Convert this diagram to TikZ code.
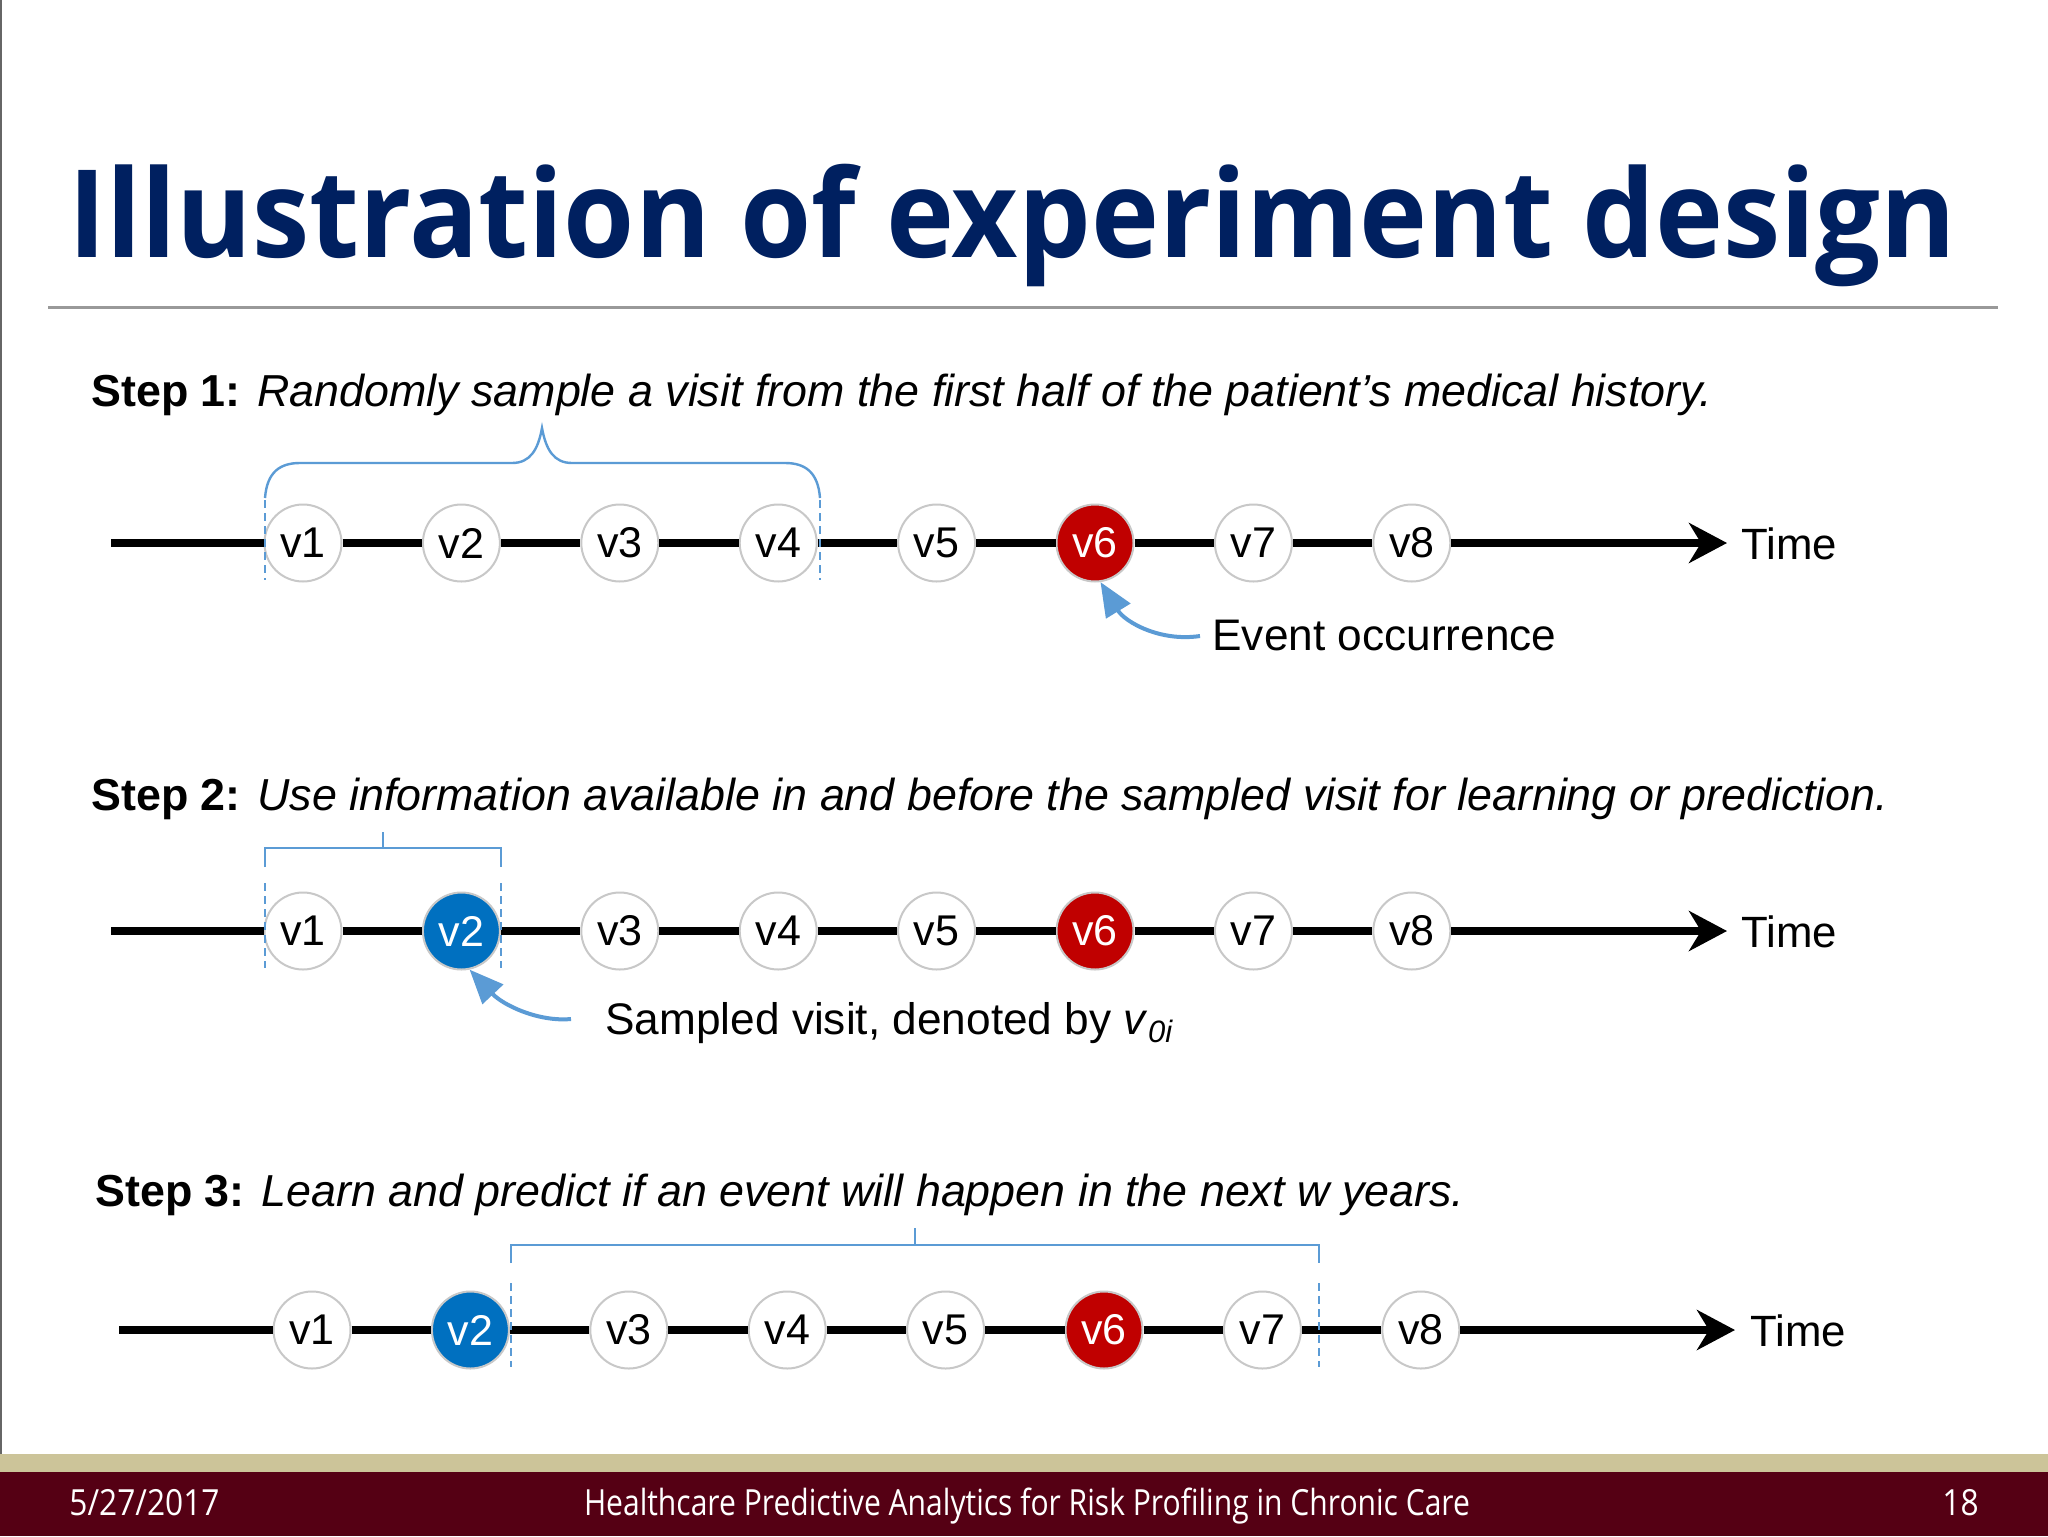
\documentclass[tikz,border=0pt]{standalone}
\usepackage{fontspec}
\setmainfont{Liberation Sans}
\newfontfamily\titlefont[FakeStretch=0.943]{Open Sans}
\newfontfamily\footfont[FakeStretch=0.88]{Open Sans}
\newfontfamily\footfontn[FakeStretch=0.835]{Open Sans}
\usetikzlibrary{arrows.meta}
\definecolor{navy}{RGB}{0,32,96}
\definecolor{brblue}{RGB}{91,155,213}
\definecolor{vred}{RGB}{192,0,0}
\definecolor{vblue}{RGB}{0,112,192}
\definecolor{footmaroon}{RGB}{85,0,20}
\definecolor{foottan}{RGB}{204,196,153}
\definecolor{ringgray}{RGB}{200,200,200}
\tikzset{
  visit/.style={circle, draw=ringgray, line width=1pt, fill=white, minimum size=38.5pt, inner sep=0pt, font=\fontsize{21.5}{22}\selectfont},
  redvisit/.style={visit, fill=vred, text=white},
  bluevisit/.style={visit, fill=vblue, text=white},
  tline/.style={line width=4.2pt, black},
  tarrow/.style={-{Stealth[length=19pt,width=20pt,inset=6pt]}},
  br/.style={brblue, line width=1.2pt},
  dsh/.style={brblue, line width=1.2pt, dash pattern=on 4pt off 2.5pt},
  callout/.style={brblue, line width=2pt, -{Triangle[length=17pt,width=14pt]}},
  lbl/.style={anchor=base west, inner sep=0pt, font=\fontsize{22.1}{26}\selectfont},
  steplbl/.style={anchor=base west, inner sep=0pt, font=\fontsize{22.4}{26}\selectfont},
  timelbl/.style={anchor=base west, inner sep=0pt, font=\fontsize{21.9}{26}\selectfont},
}
\begin{document}
\begin{tikzpicture}[x=0.5pt,y=-0.5pt]
\useasboundingbox (0,0) rectangle (2048,1536);
\fill[white] (0,0) rectangle (2048,1536);
% left border
\draw[gray!80!black, line width=1pt] (1,0) -- (1,1454);
% title
\node[anchor=base west, inner sep=0pt, text=navy, font=\titlefont\bfseries\fontsize{61}{61}\selectfont] (title) at (68,257) {Illustration of experiment design};
\draw[gray!80, line width=1.5pt] (48,307) -- (1998,307);

% ---------- Step 1 ----------
\node[steplbl] (st1) at (91,406) {\textbf{Step 1:} \textit{Randomly sample a visit from the first half of the patient’s medical history.}};
\coordinate (s1) at (111,543);
\coordinate (e1) at (1727,543);
\foreach \i in {1,...,8} {
  \ifnum\i=6
    \node[redvisit] (v1\i) at ({303+158.4*(\i-1)},543) {v\i};
  \else
    \node[visit] (v1\i) at ({303+158.4*(\i-1)},543) {v\i};
  \fi
}
\draw[tline] (s1) -- (v11) (v11) -- (v12) (v12) -- (v13) (v13) -- (v14) (v14) -- (v15) (v15) -- (v16) (v16) -- (v17) (v17) -- (v18);
\draw[tline, tarrow] (v18) -- (e1);
\node[timelbl] (time1) at (1741,559) {Time};
% brace
\draw[br] (265,498) .. controls (267,472) and (280,463) .. (300,463) -- (512,463)
  .. controls (530,463) and (538,450) .. (542,428)
  .. controls (546,450) and (554,463) .. (572,463) -- (785,463)
  .. controls (805,463) and (818,472) .. (820,498);
\draw[dsh] (265,500) -- (265,580);
\draw[dsh] (820,500) -- (820,580);
\node[lbl] (ev) at (1212,650) {Event occurrence};
\coordinate (evs) at (1200,636);
\draw[callout] (evs) .. controls (1160,642) and (1125,622) .. (v16.-82);

% ---------- Step 2 ----------
\node[steplbl] (st2) at (91,810) {\textbf{Step 2:} \textit{Use information available in and before the sampled visit for learning or prediction.}};
\coordinate (s2) at (111,931);
\coordinate (e2) at (1727,931);
\foreach \i in {1,...,8} {
  \ifnum\i=6
    \node[redvisit] (v2\i) at ({303+158.4*(\i-1)},931) {v\i};
  \else\ifnum\i=2
    \node[bluevisit] (v2\i) at ({303+158.4*(\i-1)},931) {v\i};
  \else
    \node[visit] (v2\i) at ({303+158.4*(\i-1)},931) {v\i};
  \fi\fi
}
\draw[tline] (s2) -- (v21) (v21) -- (v22) (v22) -- (v23) (v23) -- (v24) (v24) -- (v25) (v25) -- (v26) (v26) -- (v27) (v27) -- (v28);
\draw[tline, tarrow] (v28) -- (e2);
\node[timelbl] (time2) at (1741,947) {Time};
\draw[br] (265,867) -- (265,848) -- (501,848) -- (501,867);
\draw[br] (383,848) -- (383,832);
\draw[dsh] (265,883) -- (265,968);
\draw[dsh] (501,883) -- (501,968);
\node[lbl] (samp) at (605,1034) {Sampled visit, denoted by \textit{v}\textsubscript{\textit{0i}}};
\coordinate (sps) at (571,1019);
\draw[callout] (sps) .. controls (538,1022) and (503,1005) .. (v22.-78);

% ---------- Step 3 ----------
\node[steplbl] (st3) at (95,1206) {\textbf{Step 3:} \textit{Learn and predict if an event will happen in the next w years.}};
\coordinate (s3) at (119,1330);
\coordinate (e3) at (1735,1330);
\foreach \i in {1,...,8} {
  \ifnum\i=6
    \node[redvisit] (v3\i) at ({312+158.4*(\i-1)},1330) {v\i};
  \else\ifnum\i=2
    \node[bluevisit] (v3\i) at ({312+158.4*(\i-1)},1330) {v\i};
  \else
    \node[visit] (v3\i) at ({312+158.4*(\i-1)},1330) {v\i};
  \fi\fi
}
\draw[tline] (s3) -- (v31) (v31) -- (v32) (v32) -- (v33) (v33) -- (v34) (v34) -- (v35) (v35) -- (v36) (v36) -- (v37) (v37) -- (v38);
\draw[tline, tarrow] (v38) -- (e3);
\node[timelbl] (time3) at (1750,1346) {Time};
\draw[br] (511,1263) -- (511,1245) -- (1319,1245) -- (1319,1263);
\draw[br] (915,1245) -- (915,1228);
\draw[dsh] (511,1283) -- (511,1367);
\draw[dsh] (1319,1283) -- (1319,1367);

% ---------- footer ----------
\fill[foottan] (0,1454) rectangle (2048,1472);
\fill[footmaroon] (0,1472) rectangle (2048,1536);
\node[anchor=base west, inner sep=0pt, text=white, font=\footfont\fontsize{18}{18}\selectfont] (fdate) at (69,1515) {5/27/2017};
\node[anchor=base, inner sep=0pt, text=white, font=\footfontn\fontsize{18}{18}\selectfont] (ftitle) at (1027,1515) {Healthcare Predictive Analytics for Risk Profiling in Chronic Care};
\node[anchor=base east, inner sep=0pt, text=white, font=\footfont\fontsize{18}{18}\selectfont] (fpage) at (1979,1515) {18};
\end{tikzpicture}
\end{document}
